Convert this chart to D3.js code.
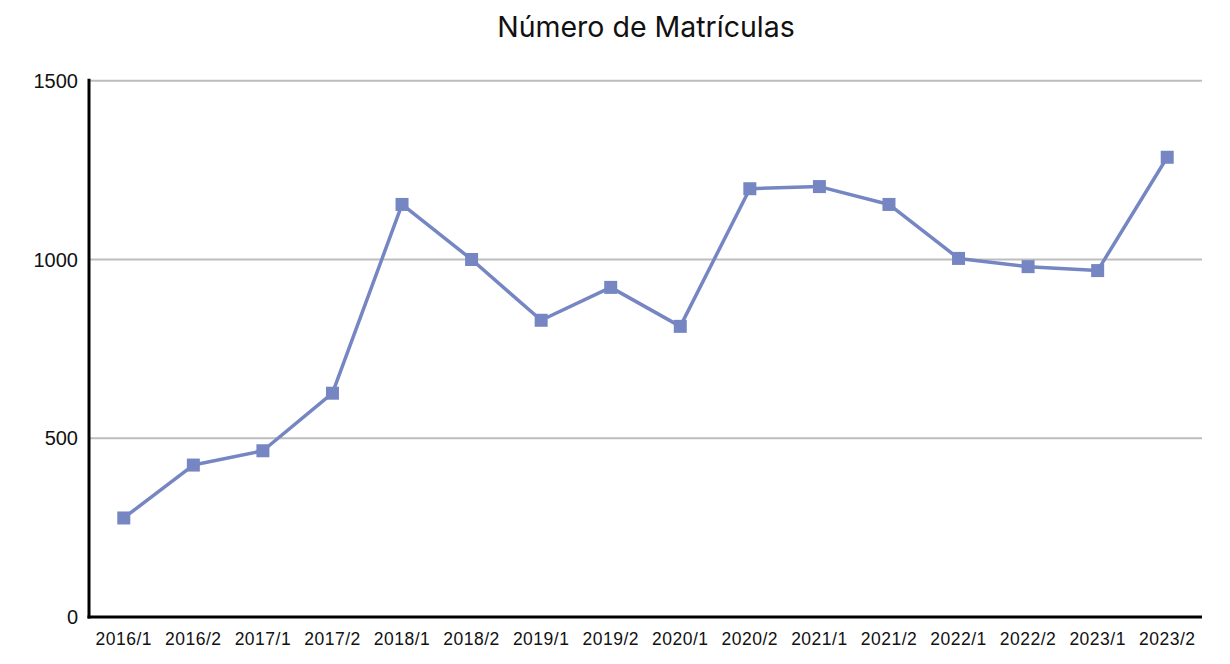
<!DOCTYPE html>
<html>
<head>
<meta charset="utf-8">
<script src="https://cdn.jsdelivr.net/npm/d3@7"></script>
<style>
    body { margin: 0; background: #fff; }
</style>
</head>
<body>
<div id="chart"></div>
<script>
// chart data
var periods = ["2016/1", "2016/2", "2017/1", "2017/2", "2018/1", "2018/2", "2019/1", "2019/2",
    "2020/1", "2020/2", "2021/1", "2021/2", "2022/1", "2022/2", "2023/1", "2023/2"];
var matriculas = [277, 425, 465, 626, 1154, 1000, 830, 922, 813, 1198, 1204, 1154, 1003, 980, 969, 1286];
var yTicks = [0, 500, 1000, 1500];
var title = "Número de Matrículas";

var w = 1230, h = 664;
var margin = { top: 80.75, right: 28, bottom: 47, left: 89 };

var svg = d3.select("#chart").append("svg")
    .attr("width", w)
    .attr("height", h);

var xScale = d3.scaleBand()
    .domain(periods)
    .range([margin.left, w - margin.right]);

var yScale = d3.scaleLinear()
    .domain([0, 1500])
    .range([h - margin.bottom, margin.top]);

// gridlines
svg.append("g")
    .selectAll("line")
    .data(yTicks.filter(function (d) { return d > 0; }))
    .enter()
    .append("line")
    .attr("x1", margin.left)
    .attr("x2", w - margin.right)
    .attr("y1", function (d) { return yScale(d); })
    .attr("y2", function (d) { return yScale(d); })
    .attr("stroke", "#bdbdbd")
    .attr("stroke-width", 2);

// y labels
svg.append("g")
    .selectAll("text")
    .data(yTicks)
    .enter()
    .append("text")
    .attr("x", margin.left - 11)
    .attr("y", function (d) { return yScale(d); })
    .attr("dy", "0.36em")
    .attr("text-anchor", "end")
    .attr("font-family", "Liberation Sans, Arial, sans-serif")
    .attr("font-size", "20px")
    .attr("fill", "#111")
    .text(function (d) { return d; });

// x labels
svg.append("g")
    .selectAll("text")
    .data(periods)
    .enter()
    .append("text")
    .attr("x", function (d) { return xScale(d) + xScale.bandwidth() / 2; })
    .attr("y", h - margin.bottom + 28)
    .attr("text-anchor", "middle")
    .attr("font-family", "Liberation Sans, Arial, sans-serif")
    .attr("font-size", "17.5px")
    .attr("letter-spacing", "0.5px")
    .attr("fill", "#111")
    .text(function (d) { return d; });

// axes lines
svg.append("line")
    .attr("x1", margin.left)
    .attr("x2", margin.left)
    .attr("y1", margin.top - 2)
    .attr("y2", h - margin.bottom + 1.5)
    .attr("stroke", "#000")
    .attr("stroke-width", 3);

svg.append("line")
    .attr("x1", margin.left - 1.5)
    .attr("x2", w - margin.right)
    .attr("y1", h - margin.bottom)
    .attr("y2", h - margin.bottom)
    .attr("stroke", "#000")
    .attr("stroke-width", 3);

// line
var line = d3.line()
    .x(function (d, i) { return xScale(periods[i]) + xScale.bandwidth() / 2; })
    .y(function (d) { return yScale(d); });

svg.append("path")
    .datum(matriculas)
    .attr("d", line)
    .attr("fill", "none")
    .attr("stroke", "#7586c3")
    .attr("stroke-width", 3.5)
    .attr("stroke-linejoin", "round");

// markers
var ms = 13;
svg.append("g")
    .selectAll("rect")
    .data(matriculas)
    .enter()
    .append("rect")
    .attr("x", function (d, i) { return xScale(periods[i]) + xScale.bandwidth() / 2 - ms / 2; })
    .attr("y", function (d) { return yScale(d) - ms / 2; })
    .attr("width", ms)
    .attr("height", ms)
    .attr("fill", "#7586c3");

// title
svg.append("text")
    .attr("x", 646)
    .attr("y", 37)
    .attr("text-anchor", "middle")
    .attr("font-family", "Inter, sans-serif")
    .attr("font-size", "28.5px")
    .attr("fill", "#111")
    .text(title);
</script>
</body>
</html>
